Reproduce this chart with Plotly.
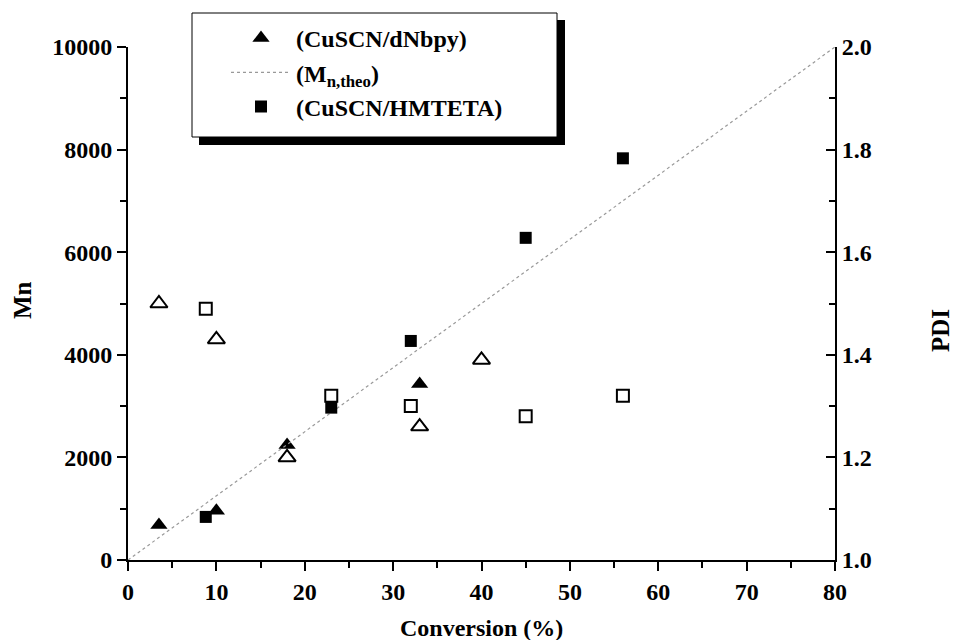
import plotly.graph_objects as go

# Data
conv_dnbpy = [3.5, 10, 18, 33]
mn_dnbpy = [680, 960, 2240, 3430]
conv_dnbpy_pdi = [3.5, 10, 18, 33, 40]
pdi_dnbpy = [1.50, 1.43, 1.20, 1.26, 1.39]

conv_hmteta = [8.8, 23, 32, 45, 56]
mn_hmteta = [840, 2970, 4270, 6280, 7830]
pdi_hmteta = [1.49, 1.32, 1.30, 1.28, 1.32]

conv_theo = [0, 80]
mn_theo = [0, 10000]

FONT = "Liberation Serif"
fig = go.Figure()

fig.add_trace(go.Scatter(x=conv_dnbpy, y=mn_dnbpy, mode="markers",
                         name="(CuSCN/dNbpy)",
                         marker=dict(symbol="triangle-up", size=15, color="black")))
fig.add_trace(go.Scatter(x=conv_theo, y=mn_theo, mode="lines",
                         name="(M<sub>n,theo</sub>)",
                         line=dict(color="#999999", width=1.2, dash="dot")))
fig.add_trace(go.Scatter(x=conv_hmteta, y=mn_hmteta, mode="markers",
                         name="(CuSCN/HMTETA)",
                         marker=dict(symbol="square", size=12, color="black")))
fig.add_trace(go.Scatter(x=conv_dnbpy_pdi, y=pdi_dnbpy, mode="markers", yaxis="y2",
                         showlegend=False,
                         marker=dict(symbol="triangle-up-open", size=15, color="black",
                                     line=dict(width=2, color="black"))))
fig.add_trace(go.Scatter(x=conv_hmteta, y=pdi_hmteta, mode="markers", yaxis="y2",
                         showlegend=False,
                         marker=dict(symbol="square-open", size=12, color="black",
                                     line=dict(width=2, color="black"))))

L, R, T, B = 128, 835, 47, 560
W, H = 954, 640
pw, ph = R - L, B - T

def px(x):
    return (x - L) / pw

def py(y):
    return (B - y) / ph

tickfont = dict(family=FONT, size=24, color="black", weight="bold")

fig.update_layout(
    width=W, height=H,
    margin=dict(l=L, r=W - R, t=T, b=H - B),
    paper_bgcolor="white", plot_bgcolor="white",
    font=dict(family=FONT, color="black"),
    xaxis=dict(range=[0, 80], dtick=10, tick0=0, showgrid=False, zeroline=False,
               showline=True, linecolor="black", linewidth=2,
               ticks="outside", ticklen=9, tickwidth=1.5, tickcolor="black",
               minor=dict(dtick=5, ticks="outside", ticklen=6, tickwidth=1.5, tickcolor="black"),
               tickfont=tickfont),
    yaxis=dict(range=[0, 10000], dtick=2000, tick0=0, showgrid=False, zeroline=False,
               tickformat="d",
               showline=True, linecolor="black", linewidth=2,
               ticks="outside", ticklen=9, tickwidth=1.5, tickcolor="black",
               minor=dict(dtick=1000, ticks="outside", ticklen=6, tickwidth=1.5, tickcolor="black"),
               tickfont=tickfont),
    yaxis2=dict(range=[1.0, 2.0], dtick=0.2, tick0=1.0, overlaying="y", side="right",
                showgrid=False, zeroline=False, tickformat=".1f",
                showline=True, linecolor="black", linewidth=2,
                ticks="inside", ticklen=9, tickwidth=1.5, tickcolor="black",
                minor=dict(dtick=0.1, ticks="inside", ticklen=6, tickwidth=1.5, tickcolor="black"),
                tickfont=tickfont),
    showlegend=True,
    legend=dict(x=px(226), y=py(16), xanchor="left", yanchor="top",
                bgcolor="rgba(0,0,0,0)", borderwidth=0, itemwidth=60,
                font=dict(family=FONT, size=24, color="black", weight="bold"),
                tracegroupgap=0),
    shapes=[
        dict(type="rect", xref="paper", yref="paper", layer="above",
             x0=px(199), x1=px(565), y0=py(145), y1=py(20),
             fillcolor="black", line=dict(width=0)),
        dict(type="rect", xref="paper", yref="paper", layer="above",
             x0=px(192), x1=px(557), y0=py(137), y1=py(13),
             fillcolor="white", line=dict(color="black", width=1)),
    ],
    annotations=[
        dict(text="Mn", xref="paper", yref="paper", x=px(22), y=py(300),
             showarrow=False, textangle=-90, xanchor="center", yanchor="middle",
             font=dict(family=FONT, size=25, color="black", weight="bold")),
        dict(text="PDI", xref="paper", yref="paper", x=px(940), y=py(330),
             showarrow=False, textangle=-90, xanchor="center", yanchor="middle",
             font=dict(family=FONT, size=25, color="black", weight="bold")),
        dict(text="Conversion (%)", xref="paper", yref="paper", x=px(481), y=py(628),
             showarrow=False, xanchor="center", yanchor="middle",
             font=dict(family=FONT, size=24, color="black", weight="bold")),
    ],
)

fig.write_html("out.html")
